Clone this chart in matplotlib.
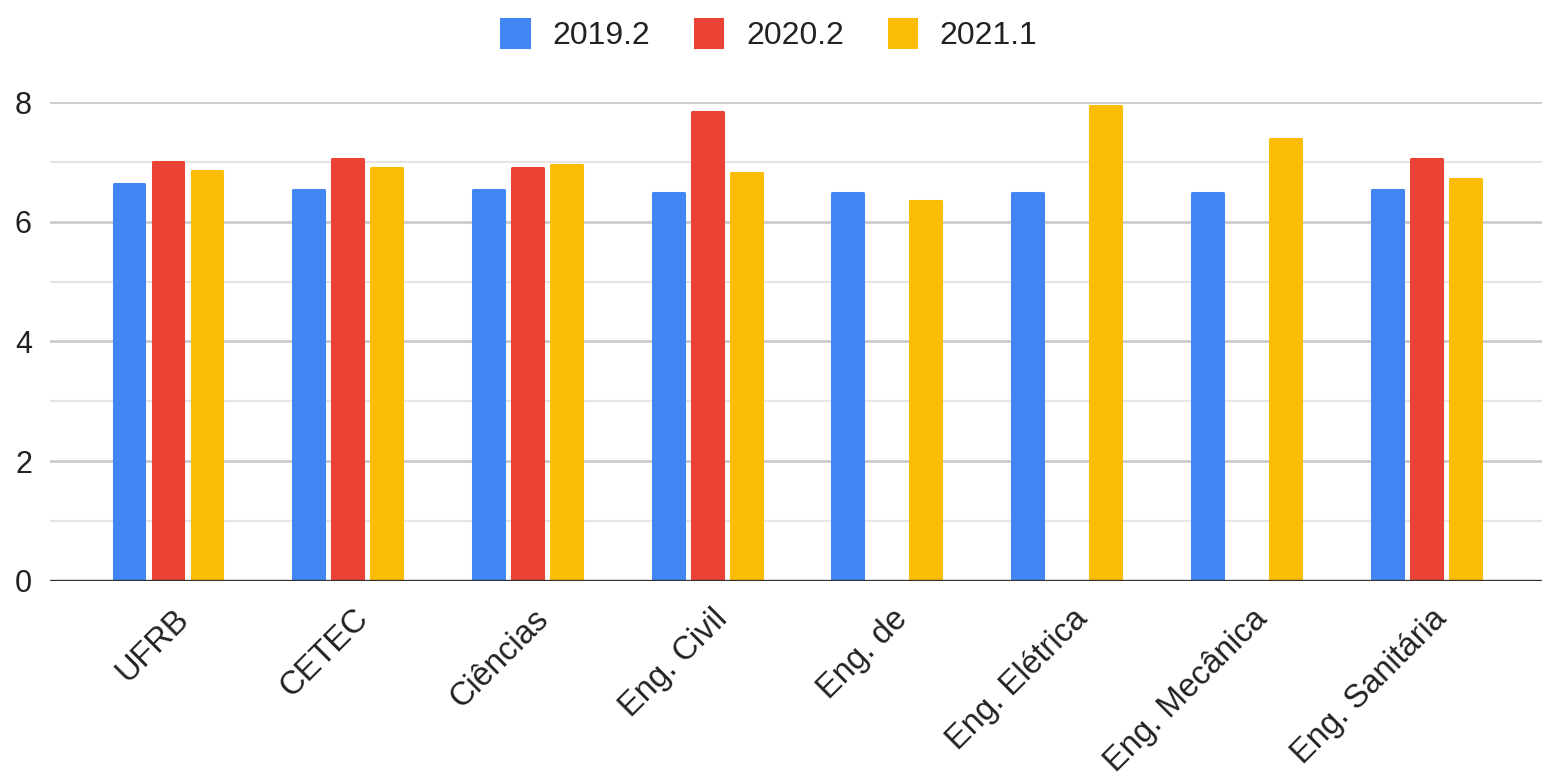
import matplotlib.pyplot as plt
import matplotlib.transforms as mtransforms
import numpy as np

plt.rcParams['font.family'] = ['Liberation Sans', 'DejaVu Sans']

categories = ['UFRB', 'CETEC', 'Ciências', 'Eng. Civil', 'Eng. de',
              'Eng. Elétrica', 'Eng. Mecânica', 'Eng. Sanitária']
series_names = ['2019.2', '2020.2', '2021.1']
v_2019_2 = [6.63, 6.53, 6.53, 6.48, 6.48, 6.48, 6.48, 6.53]
v_2020_2 = [7.00, 7.05, 6.90, 7.83, np.nan, np.nan, np.nan, 7.05]
v_2021_1 = [6.85, 6.90, 6.95, 6.81, 6.34, 7.93, 7.38, 6.71]
colors = ['#4285F4', '#EA4335', '#FBBC04']

fig = plt.figure(figsize=(15.42, 7.74), dpi=100)
ax = fig.add_axes([0.0324, 0.2494, 0.9676, 0.6188])

x = np.arange(len(categories))
width = 0.172
offset = 0.217
for i, (vals, name, c) in enumerate(zip([v_2019_2, v_2020_2, v_2021_1], series_names, colors)):
    # thin edge in the same colour with round joins -> slightly rounded corners
    ax.bar(x + (i - 1) * offset, vals, width, color=c, edgecolor=c, linewidth=2.2,
           joinstyle='round', label=name, zorder=3)

ax.set_xlim(-0.657, 7.645)
ax.set_ylim(0, 8)

# grid: major every 2, minor every 1
ax.set_yticks([0, 2, 4, 6, 8])
ax.set_yticks([1, 3, 5, 7], minor=True)
ax.grid(axis='y', which='major', color='#cccccc', linewidth=2, zorder=0)
ax.grid(axis='y', which='minor', color='#e6e6e6', linewidth=1.6, zorder=0)
ax.axhline(0, color='#333333', linewidth=2.4, zorder=4)
ax.tick_params(axis='y', which='both', length=0, labelsize=22, pad=13, labelcolor='#222222')
ax.tick_params(axis='x', length=0, labelsize=23.5, pad=16, labelcolor='#222222')

ax.set_xticks(x)
ax.set_xticklabels(categories, rotation=45, ha='right', rotation_mode='anchor')
shift = mtransforms.ScaledTranslation(5 / 100, 0, fig.dpi_scale_trans)
for lbl in ax.get_xticklabels():
    lbl.set_transform(lbl.get_transform() + shift)
for spine in ax.spines.values():
    spine.set_visible(False)

fig.legend(loc='upper center', bbox_to_anchor=(0.499, 1.012), ncol=3, frameon=False,
           fontsize=23, handlelength=0.85, handleheight=0.95, handletextpad=0.75,
           columnspacing=1.4, labelcolor='#222222')

fig.savefig('out.png', dpi=100)
